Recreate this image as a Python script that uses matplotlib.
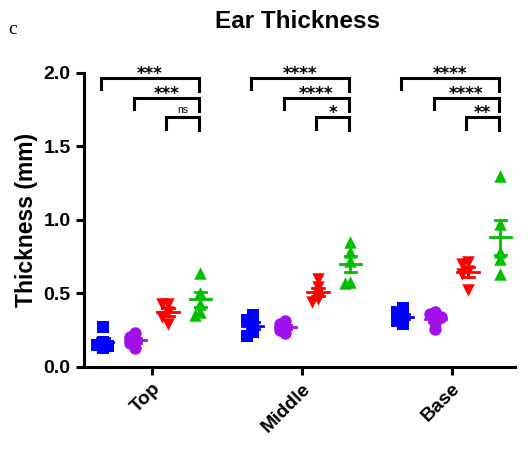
import numpy as np
import matplotlib
matplotlib.use("Agg")
import matplotlib.pyplot as plt

plt.rcParams["font.family"] = ["Liberation Sans", "DejaVu Sans"]

# ---- data ----
regions = ["Top", "Middle", "Base"]
colors = ["#0000FF", "#A010E8", "#FF0000", "#00BF00"]
markers = ["s", "o", "v", "^"]

top_vals = [
    [0.27, 0.17, 0.15, 0.14, 0.13],   # blue
    [0.23, 0.20, 0.18, 0.16, 0.13],   # purple
    [0.43, 0.43, 0.37, 0.34, 0.29],   # red
    [0.64, 0.50, 0.43, 0.37, 0.35],   # green
]
middle_vals = [
    [0.35, 0.32, 0.28, 0.24, 0.21],
    [0.31, 0.29, 0.27, 0.25, 0.23],
    [0.60, 0.54, 0.50, 0.46, 0.44],
    [0.85, 0.78, 0.72, 0.58, 0.57],
]
base_vals = [
    [0.40, 0.37, 0.34, 0.31, 0.29],
    [0.37, 0.36, 0.34, 0.30, 0.26],
    [0.71, 0.70, 0.65, 0.63, 0.52],
    [1.30, 0.97, 0.78, 0.73, 0.63],
]
all_vals = [top_vals, middle_vals, base_vals]

# significance labels per region: blue-green, purple-green, red-green
sig_labels = [
    ["***", "***", "ns"],
    ["****", "****", "*"],
    ["****", "****", "**"],
]

GROUP_GAP = 4.6


def swarm(vals, r=0.035, d=0.17):
    """simple deterministic spread so overlapping points sit side by side"""
    placed = []
    offs = []
    for v in vals:
        for k in [0, -1, 1, -2, 2]:
            o = k * d
            if all(abs(v - pv) > r or abs(o - po) > d * 0.9 for pv, po in placed):
                break
        placed.append((v, o))
        offs.append(o)
    return offs


fig = plt.figure(figsize=(5.3, 4.49), dpi=100)
ax = fig.add_axes([0.158, 0.183, 0.814, 0.655])

for g, groups in enumerate(all_vals):
    for i, vals in enumerate(groups):
        x0 = g * GROUP_GAP + i - 1.5
        offs = swarm(vals)
        xs = [x0 + o for o in offs]
        ax.scatter(xs, vals, marker=markers[i], s=80, color=colors[i],
                   linewidths=0, zorder=3, clip_on=False)
        m = np.mean(vals)
        sem = np.std(vals, ddof=1) / np.sqrt(len(vals))
        ax.plot([x0 - 0.33, x0 + 0.33], [m, m], color=colors[i], lw=2, zorder=4)
        ax.plot([x0, x0], [m - sem, m + sem], color=colors[i], lw=2, zorder=4)
        for yy in (m - sem, m + sem):
            ax.plot([x0 - 0.18, x0 + 0.18], [yy, yy], color=colors[i], lw=2, zorder=4)

    # brackets
    tops = [1.967, 1.83, 1.70]
    for b in range(3):
        xa = g * GROUP_GAP + b - 1.5 - 0.05
        xb = g * GROUP_GAP + 1.5 - 0.05
        y = tops[b]
        ax.plot([xa, xa, xb, xb], [y - 0.08, y, y, y - 0.09], color="black",
                lw=2.2, clip_on=False, solid_joinstyle="miter")
        lab = sig_labels[g][b]
        if lab == "ns":
            ax.text((xa + xb) / 2, y + 0.01, lab, ha="center", va="bottom",
                    fontsize=7.5, clip_on=False)
        else:
            ax.text((xa + xb) / 2, y - 0.035, lab, ha="center", va="bottom",
                    fontsize=12, fontweight="bold", family="DejaVu Sans",
                    clip_on=False)

ax.set_xlim(-2.08, 2 * GROUP_GAP + 1.95)
ax.set_ylim(0, 2.0)
ax.set_yticks([0.0, 0.5, 1.0, 1.5, 2.0])
ax.set_yticklabels([f"{v:.1f}" for v in [0.0, 0.5, 1.0, 1.5, 2.0]],
                   fontsize=14, fontweight="bold")
ax.set_xticks([g * GROUP_GAP for g in range(3)])
ax.set_xticklabels(regions, rotation=45, ha="right", rotation_mode="anchor",
                   fontsize=14, fontweight="bold")
ax.tick_params(axis="both", width=2.2, length=6)
for s in ["top", "right"]:
    ax.spines[s].set_visible(False)
for s in ["left", "bottom"]:
    ax.spines[s].set_linewidth(2.2)

ax.set_ylabel("Thickness (mm)", fontsize=16.5, fontweight="bold")
fig.text(0.562, 0.952, "Ear Thickness", ha="center", va="center",
         fontsize=17.5, fontweight="bold")
fig.text(0.015, 0.935, "c", ha="left", va="center", fontsize=14,
         family="Liberation Serif")

fig.savefig("out.png", dpi=100)
